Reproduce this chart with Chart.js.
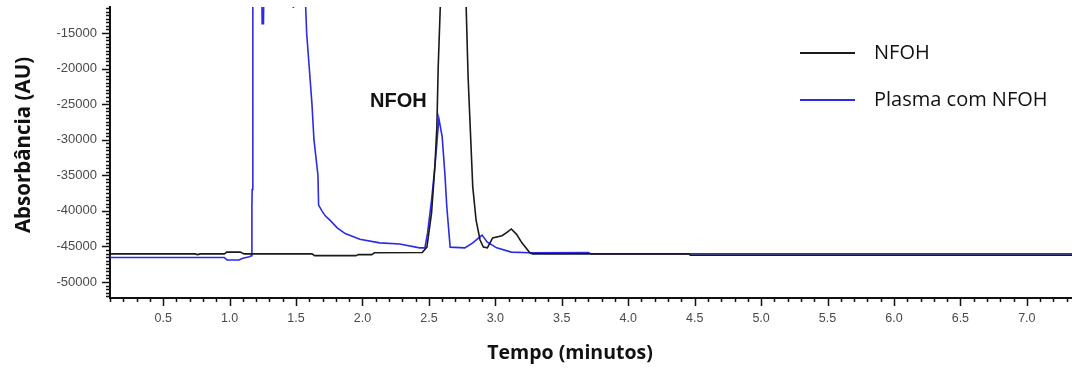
<!DOCTYPE html>
<html>
<head>
<meta charset="utf-8">
<script src="https://cdn.jsdelivr.net/npm/chart.js@4.4.1/dist/chart.umd.min.js"></script>
<style>
  body { margin: 0; background: #fff; }
  #wrap { width: 1072px; height: 374px; }
</style>
</head>
<body>
<div id="wrap"><canvas id="myChart" width="1072" height="374"></canvas></div>
<script>
// NFOH standard (black trace)
const nfohTime = [0.10, 0.74, 0.76, 0.78, 0.96, 0.98, 1.08, 1.11, 1.62, 1.64, 1.95, 1.97, 2.07, 2.09, 2.45,
  2.485, 2.52, 2.545, 2.56, 2.57, 2.59, 2.62, 2.68, 2.74, 2.78, 2.795, 2.815, 2.83, 2.855, 2.885, 2.91,
  2.94, 2.98, 3.05, 3.09, 3.12, 3.16, 3.20, 3.26, 3.28, 4.45, 4.47, 7.34];
const nfohAbs = [-46050, -46050, -46150, -46050, -46050, -45800, -45800, -46050, -46050, -46300, -46300, -46150, -46150, -45900, -45850,
  -45100, -40300, -33800, -28200, -19800, -9000, 2000, 8000, 2000, -11000, -21200, -30000, -36600, -41300, -44100, -45100,
  -45200, -43800, -43500, -43000, -42550, -43300, -44500, -45900, -46050, -46050, -46250, -46250];

// plasma with NFOH (blue trace)
const plasmaTime = [0.10, 0.96, 0.98, 1.07, 1.10, 1.15, 1.165, 1.168, 1.17, 1.175, 1.24, 1.245, 1.255, 1.26,
  1.47, 1.48, 1.49, 1.56, 1.58, 1.60, 1.62, 1.635, 1.665, 1.67, 1.695, 1.72, 1.755, 1.81, 1.87, 1.98, 2.13, 2.28,
  2.43, 2.47, 2.49, 2.52, 2.545, 2.56, 2.575, 2.60, 2.62, 2.635, 2.66, 2.77, 2.83, 2.90, 2.94, 3.01, 3.12,
  3.26, 3.70, 3.72, 7.34];
const plasmaAbs = [-46550, -46550, -46900, -46900, -46650, -46450, -46300, -39500, -37000, -5000, -5000, -13700, -13700, -5000,
  -5000, -11500, -5000, -5000, -15000, -20000, -25000, -30000, -35000, -39200, -40000, -40700, -41300, -42400, -43200, -44000, -44500, -44650,
  -45200, -45200, -43100, -38500, -33800, -30500, -27000, -29600, -34700, -39500, -45100, -45200, -44500, -43400, -44400, -45200, -45800,
  -45900, -45850, -46050, -46050];

const seriesNames = ["NFOH", "Plasma com NFOH"];
const seriesColors = ["#1a1a1a", "#2b2be6"];
const peakLabel = { text: "NFOH", x: 2.27, y: -24560 };
const xTitle = "Tempo (minutos)";
const yTitle = "Absorbância (AU)";

const xMin = 0.1, xMax = 7.34, xStep = 0.1, xLabelEvery = 0.5;
const yMin = -52250, yMax = -11350, yStep = 500, yLabelEvery = 5000;

function isMult(v, step) {
  const r = v / step;
  return Math.abs(r - Math.round(r)) < 1e-6;
}

function toPoints(xs, ys) {
  return xs.map((x, i) => ({ x: x, y: ys[i] }));
}

// minor / major tick marks drawn along the axis lines
const tickMarks = {
  id: "tickMarks",
  afterDraw(chart) {
    const ctx = chart.ctx;
    const area = chart.chartArea;
    const xs = chart.scales.x;
    const ys = chart.scales.y;
    ctx.save();
    ctx.strokeStyle = "#111";
    ctx.lineWidth = 1.5;
    ctx.beginPath();
    xs.ticks.forEach((t) => {
      if (!isMult(t.value, xStep)) return;
      const px = Math.round(xs.getPixelForValue(t.value)) + 0.5;
      const len = isMult(t.value, xLabelEvery) ? 8 : 4;
      ctx.moveTo(px, area.bottom);
      ctx.lineTo(px, area.bottom + len);
    });
    ys.ticks.forEach((t) => {
      if (!isMult(t.value, yStep)) return;
      const py = Math.round(ys.getPixelForValue(t.value)) + 0.5;
      const len = isMult(t.value, yLabelEvery) ? 8 : 4;
      ctx.moveTo(area.left, py);
      ctx.lineTo(area.left - len, py);
    });
    ctx.stroke();
    ctx.restore();
  },
};

// legend inside the plot, peak annotation and the two axis titles
const inPlotText = {
  id: "inPlotText",
  afterDraw(chart) {
    const ctx = chart.ctx;
    ctx.save();
    chart.data.datasets.forEach((ds, i) => {
      const yy = 53 + i * 47;
      ctx.strokeStyle = ds.borderColor;
      ctx.lineWidth = 2;
      ctx.beginPath();
      ctx.moveTo(800, yy);
      ctx.lineTo(855, yy);
      ctx.stroke();
      ctx.fillStyle = "#111";
      ctx.font = "20px 'Open Sans', sans-serif";
      ctx.textAlign = "left";
      ctx.textBaseline = "middle";
      ctx.fillText(ds.label, 874, yy);
    });
    const px = chart.scales.x.getPixelForValue(peakLabel.x);
    const py = chart.scales.y.getPixelForValue(peakLabel.y);
    ctx.font = "bold 20px 'Liberation Sans', Arial, sans-serif";
    ctx.fillStyle = "#111";
    ctx.textAlign = "center";
    ctx.textBaseline = "middle";
    ctx.fillText(peakLabel.text, px, py);

    ctx.font = "bold 19.5px 'Open Sans', sans-serif";
    ctx.fillText(xTitle, 570, 353);
    ctx.translate(24, 145);
    ctx.rotate(-Math.PI / 2);
    ctx.font = "bold 20.5px 'Open Sans', sans-serif";
    ctx.fillText(yTitle, 0, 0);
    ctx.restore();
  },
};

const ctx = document.getElementById("myChart").getContext("2d");

const myChart = new Chart(ctx, {
  type: "line",
  data: {
    datasets: [
      {
        label: seriesNames[0],
        data: toPoints(nfohTime, nfohAbs),
        borderColor: seriesColors[0],
        borderWidth: 1.6,
        pointRadius: 0,
        tension: 0,
      },
      {
        label: seriesNames[1],
        data: toPoints(plasmaTime, plasmaAbs),
        borderColor: seriesColors[1],
        borderWidth: 1.6,
        pointRadius: 0,
        tension: 0,
      },
    ],
  },
  options: {
    responsive: false,
    animation: false,
    layout: { padding: { top: 7, left: 0, right: 0, bottom: 0 } },
    plugins: {
      legend: { display: false },
      tooltip: { enabled: false },
    },
    scales: {
      x: {
        type: "linear",
        min: xMin,
        max: xMax,
        afterFit: (scale) => {
          scale.height = 76;
          scale.paddingLeft = 0;
          scale.paddingRight = 0;
        },
        border: { display: true, color: "#111", width: 2 },
        grid: { drawOnChartArea: false, drawTicks: false },
        ticks: {
          stepSize: xStep,
          maxTicksLimit: 500,
          autoSkip: false,
          includeBounds: false,
          maxRotation: 0,
          padding: 13,
          color: "#4a4a4a",
          font: { family: "'Liberation Sans', Arial, sans-serif", size: 12.5 },
          callback: (v) => (isMult(v, xLabelEvery) ? Number(v).toFixed(1) : ""),
        },
        title: { display: false },
      },
      y: {
        type: "linear",
        min: yMin,
        max: yMax,
        afterBuildTicks: (scale) => {
          const ticks = [];
          for (let v = Math.ceil(scale.min / yStep) * yStep; v <= scale.max; v += yStep) {
            ticks.push({ value: v });
          }
          scale.ticks = ticks;
        },
        afterFit: (scale) => {
          scale.width = 110;
          scale.paddingTop = 0;
          scale.paddingBottom = 0;
        },
        border: { display: true, color: "#111", width: 2 },
        grid: { drawOnChartArea: false, drawTicks: false },
        ticks: {
          autoSkip: false,
          padding: 13,
          color: "#4a4a4a",
          font: { family: "'Liberation Sans', Arial, sans-serif", size: 13 },
          callback: (v) => (isMult(v, yLabelEvery) ? String(v) : ""),
        },
        title: { display: false },
      },
    },
  },
  plugins: [tickMarks, inPlotText],
});
</script>
</body>
</html>
